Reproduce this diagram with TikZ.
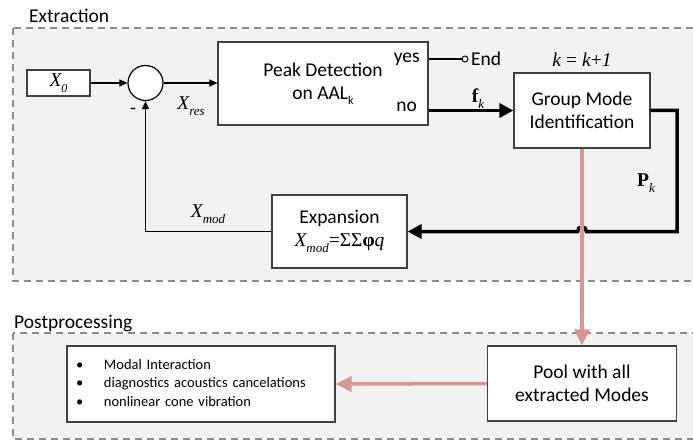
\documentclass[tikz,border=0pt]{standalone}
\usepackage{fontspec}
\setmainfont{Carlito}
\newfontfamily\tmfont{Liberation Serif}
\usetikzlibrary{arrows.meta,calc}
\definecolor{panelfill}{HTML}{F2F2F2}
\definecolor{dashcol}{HTML}{8C8C8C}
\definecolor{pinkcol}{HTML}{D99694}
\definecolor{boxline}{HTML}{404040}
\newcommand\lsub[1]{\raisebox{-0.28em}{\fontsize{12}{12}\selectfont #1}}
\newcommand\msub[1]{\raisebox{-0.3em}{\fontsize{13}{13}\selectfont #1}}
\tikzset{
  panel/.style={draw=dashcol, fill=panelfill, line width=1.2pt, dash pattern=on 7pt off 5pt},
  lbl/.style={inner sep=0pt, font=\fontsize{19.5}{23}\selectfont},
  box/.style={draw=boxline, line width=1.2pt, fill=white, align=center, inner sep=0pt, font=\fontsize{19.5}{23}\selectfont},
  txt/.style={inner sep=0pt, font=\fontsize{19.5}{23}\selectfont},
  mth/.style={inner sep=0pt, font=\fontsize{19.5}{23}\selectfont\tmfont\itshape},
  thn/.style={draw=black, line width=1.2pt, -{Triangle[length=8pt,width=7pt]}},
  thnplain/.style={draw=black, line width=1.2pt},
  thk/.style={draw=black, line width=3.5pt, -{Triangle[length=14pt,width=14pt]}},
  pk/.style={draw=pinkcol, line width=3.5pt, -{Triangle[length=16pt,width=15pt]}},
}
\begin{document}
\begin{tikzpicture}[x=1pt,y=-1pt]
\useasboundingbox (0,0) rectangle (693,441);
% panels
\draw[panel] (13,28) rectangle (712,281);
\draw[panel] (13,333) rectangle (712,439);
\node[lbl, anchor=west] (lext) at (29,16) {Extraction};
\node[lbl, anchor=west] (lpost) at (14,323) {Postprocessing};

% extraction nodes
\node[box, minimum width=63, minimum height=26] (x0) at (58.5,83) {\tmfont\itshape X\lsub{0}};
\node[circle, draw=black, line width=1.2pt, fill=white, minimum size=35, inner sep=0pt] (sum) at (145.5,83) {};
\node[box, minimum width=210, minimum height=83] (peak) at (323,83.5) {Peak Detection\\on AAL\lsub{k}};
\node[txt, anchor=east] (yes) at (420,59) {yes};
\node[txt, anchor=east] (no) at (417,107) {no};
\node[circle, draw=black, line width=1pt, fill=white, minimum size=6, inner sep=0pt] (endc) at (465,59) {};
\node[txt, anchor=west] (endt) at (471,59) {End};
\node[mth] (kk) at (582,60) {k \textup{=} k\textup{+}1};
\node[box, minimum width=136, minimum height=75] (grp) at (582,110.5) {Group Mode\\Identification};
\node[box, minimum width=135, minimum height=73] (exp) at (339.5,231.5) {Expansion\\{\tmfont\itshape X\msub{mod}\textup{=ΣΣ}{\upshape\bfseries φ}q}};

% labels
\node[mth] (lres) at (191,106) {X\msub{res}};
\node[txt] (lminus) at (133,111) {-};
\node[mth] (lmod) at (208,214) {X\msub{mod}};
\node[mth] (lf) at (478,99) {{\upshape\bfseries f}\msub{k}};
\node[mth] (lp) at (646,183) {{\upshape\bfseries P}\msub{k}};

% connectors
\draw[thn] (x0.east) -- (sum.west);
\draw[thn] (sum.east) -- (peak.west |- sum.east);
\draw[thnplain] (peak.east |- yes) -- (endc.west);
\draw[thk] (peak.east |- grp.west) -- (grp.west);
\coordinate (c1) at (677,110.5);
\coordinate (hop) at (grp.south |- exp.east);
\draw[thk] (grp.east) -- (c1) -- (c1 |- exp.east) -- ($(hop)+(4.5,0)$)
  .. controls ($(hop)+(4.5,-6)$) and ($(hop)+(-4.5,-6)$) .. ($(hop)+(-4.5,0)$) -- (exp.east);
\draw[thn] (exp.west) -- (sum.south |- exp.west) -- (sum.south);

% postprocessing
\node[box, minimum width=189, minimum height=75] (pool) at (582,383.5) {Pool with all\\extracted Modes};
\node[box, minimum width=268, minimum height=76, text width=250, align=left, inner xsep=9pt, font=\fontsize{14.5}{18.5}\selectfont] (bul) at (201,384)
  {\begin{tabular}{@{}p{28pt}@{}l@{}}•&Modal Interaction\\•&diagnostics acoustics cancelations\\•&nonlinear cone vibration\end{tabular}};
\draw[pk] (grp.south) -- (pool.north);
\draw[pk] (pool.west) -- (bul.east);
\end{tikzpicture}
\end{document}
